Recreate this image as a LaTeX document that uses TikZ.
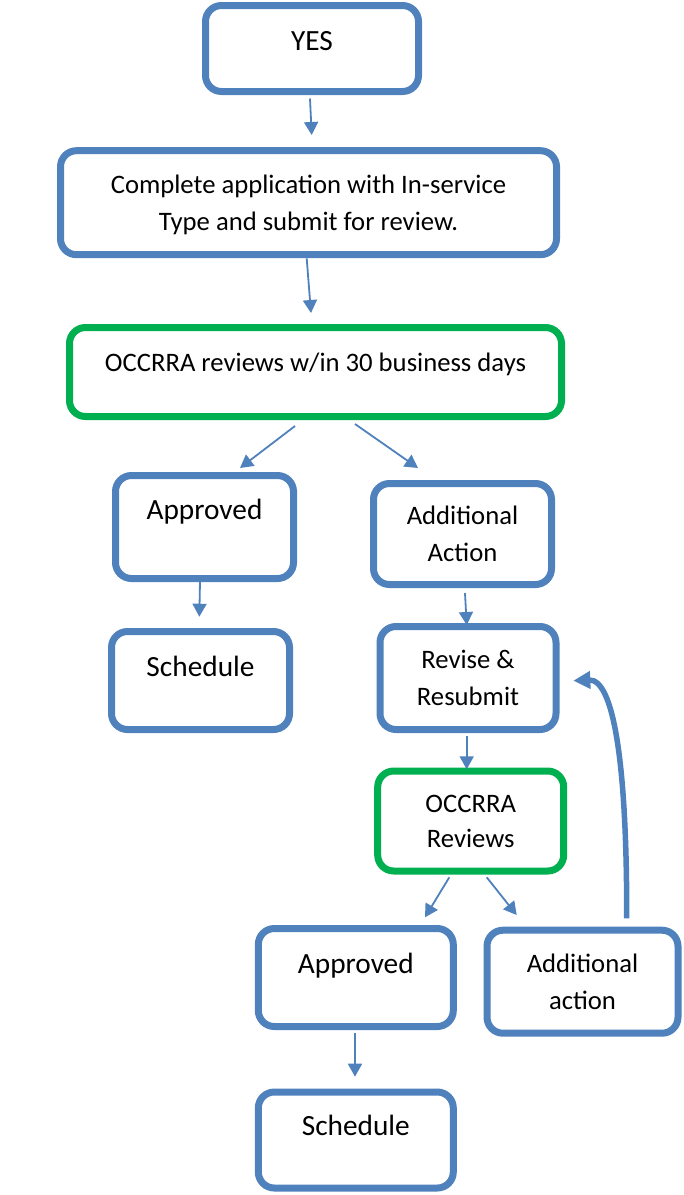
\documentclass[tikz,border=0pt]{standalone}
\usepackage{fontspec}
\setmainfont{Carlito}
\usetikzlibrary{arrows.meta,calc}
\definecolor{boxblue}{RGB}{79,129,189}
\definecolor{boxgreen}{RGB}{0,176,80}
\newcommand\liftup[2]{\raisebox{#1}[\height][\depth]{#2}}
\tikzset{
  box/.style={draw=boxblue, line width=7pt, rounded corners=16pt, fill=white,
    align=center, inner sep=0pt, outer sep=0pt, text=black,
    font=\fontsize{26.67}{37}\selectfont},
  gbox/.style={box, draw=boxgreen},
  bigtext/.style={font=\fontsize{29.33}{37}\selectfont},
  arr/.style={draw=boxblue, line width=1.8pt, -{Triangle[length=13pt,width=14pt]}},
  backarr/.style={draw=boxblue, line width=5.5pt, -{Triangle[length=17pt,width=17pt]}}
}
\begin{document}
\begin{tikzpicture}[x=1pt,y=-1pt]
\fill[white] (0,0) rectangle (684,1195);
\useasboundingbox (0,0) rectangle (684,1195);

\node[box, bigtext, minimum width=213pt, minimum height=86pt] (yes) at (312,48.5) {\liftup{7pt}{YES}};
\node[box, minimum width=496pt, minimum height=104pt] (complete) at (308.5,202.7)
  {\liftup{-2pt}{\begin{tabular}{@{}c@{}}Complete application with In-service\\Type and submit for review.\end{tabular}}};
\node[gbox, minimum width=492pt, minimum height=89pt] (occ1) at (315.5,372)
  {\liftup{8pt}{OCCRRA reviews w/in 30 business days}};
\node[box, bigtext, minimum width=178pt, minimum height=103pt] (appr1) at (204.5,527) {\liftup{15pt}{Approved}};
\node[box, minimum width=178pt, minimum height=101pt] (addl1) at (462.5,534) {Additional\\Action};
\node[box, bigtext, minimum width=178pt, minimum height=98pt] (sched1) at (200.5,680.5) {\liftup{14pt}{Schedule}};
\node[box, minimum width=176pt, minimum height=103pt] (revise) at (468,678) {Revise \&\\Resubmit};
\node[gbox, minimum width=186pt, minimum height=100pt, font=\fontsize{26.67}{35}\selectfont] (occ2) at (470.7,821) {OCCRRA\\Reviews};
\node[box, bigtext, minimum width=195pt, minimum height=98pt] (appr2) at (355.8,977.5) {\liftup{12pt}{Approved}};
\node[box, minimum width=191pt, minimum height=103pt] (addl2) at (582.5,981.7) {Additional\\action};
\node[box, bigtext, minimum width=195pt, minimum height=96pt] (sched2) at (355.8,1140) {\liftup{15pt}{Schedule}};

\draw[arr] ($(yes.south)+(-2,7)$) -- ($(complete.north)+(3.2,-15.7)$);
\draw[arr] ($(complete.south)+(-1.8,3.6)$) -- ($(occ1.north)+(-4.5,-14.5)$);
\draw[arr] ($(occ1.south)+(-20.5,9.5)$) -- ($(appr1.north)+(35.5,-7.5)$);
\draw[arr] ($(occ1.south)+(39.5,7.5)$) -- ($(addl1.north)+(-44.5,-15.5)$);
\draw[arr] ($(appr1.south)+(-4.5,3.2)$) -- ($(sched1.north)+(-1.2,-14.8)$);
\draw[arr] ($(addl1.south)+(2.5,8.5)$) -- ($(revise.north)+(-1.3,-1.5)$);
\draw[arr] ($(revise.south)+(-1.3,6.5)$) -- ($(occ2.north)+(-4,-1.7)$);
\draw[arr] ($(occ2.south)+(-21.4,6.3)$) -- ($(appr2.north)+(69.2,-11.2)$);
\draw[arr] ($(occ2.south)+(16,6.3)$) -- ($(addl2.north)+(-65.8,-15.2)$);
\draw[arr] ($(appr2.south)+(-0.8,6.8)$) -- ($(sched2.north)+(-0.8,-15.3)$);
\draw[backarr] ($(addl2.north)+(44.2,-11.9)$) .. controls (627,760) and (613,679) .. ($(revise.east)+(17.3,2.7)$);
\end{tikzpicture}
\end{document}
